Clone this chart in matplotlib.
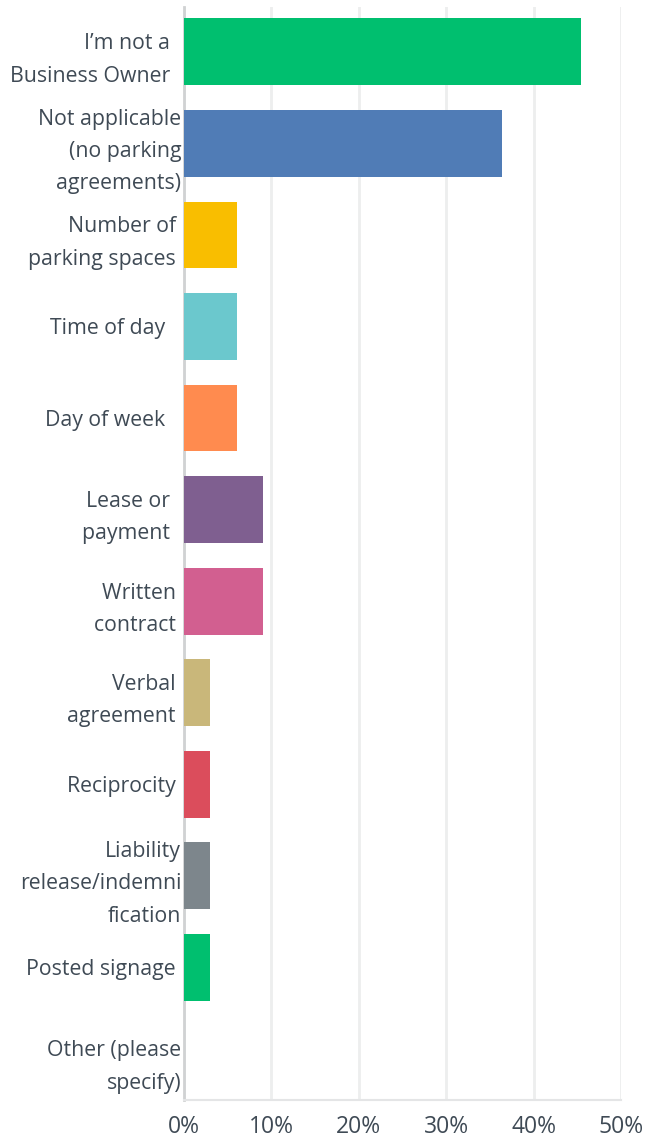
import matplotlib.pyplot as plt

plt.rcParams['font.family'] = ['Open Sans', 'DejaVu Sans']

# answer choices (top to bottom) and share of respondents in %
labels = [
    "I\u2019m not a  \nBusiness Owner  ",
    "Not applicable\n(no parking\nagreements)",
    "Number of \nparking spaces ",
    "Time of day   ",
    "Day of week   ",
    "Lease or  \npayment  ",
    "Written \ncontract ",
    "Verbal \nagreement ",
    "Reciprocity ",
    "Liability\nrelease/indemni\nfication",
    "Posted signage ",
    "Other (please\nspecify)",
]
values = [45.45, 36.36, 6.06, 6.06, 6.06, 9.09, 9.09, 3.03, 3.03, 3.03, 3.03, 0.0]
colors = ["#00BF6F", "#507CB6", "#F9BE00", "#6BC8CD", "#FF8B4F", "#7F5F90",
          "#D25F90", "#C9B77A", "#DB4D5C", "#7D868C", "#00BF6F", "#00BF6F"]
xticks = [0, 10, 20, 30, 40, 50]

text_col = "#3F4A55"

fig = plt.figure(figsize=(6.47, 11.43), dpi=100)
ax = fig.add_axes([184 / 647, 1 - 1100 / 1143, (621 - 184) / 647, (1100 - 7) / 1143])

ypos = list(range(len(labels)))
ax.barh(ypos, values, height=0.73, color=colors, zorder=3)

ax.set_ylim(11.45, -0.49)
ax.set_xlim(0, 50)
ax.set_yticks(ypos)
ax.set_yticklabels(labels, fontsize=15.3, color=text_col, linespacing=1.7)
ax.set_xticks(xticks)
ax.set_xticklabels([f"{t}%" for t in xticks], fontsize=16.5, color=text_col)
ax.tick_params(axis='y', length=0, pad=2)
ax.tick_params(axis='x', length=0, pad=11)

ax.grid(axis='x', color="#EDEEEE", linewidth=2, zorder=0)
for s in ['top', 'right']:
    ax.spines[s].set_visible(False)
ax.spines['left'].set_color("#D0D2D3")
ax.spines['left'].set_linewidth(2)
ax.spines['bottom'].set_color("#E4E5E6")
ax.spines['bottom'].set_linewidth(1.5)

fig.savefig("out.png", dpi=100)
